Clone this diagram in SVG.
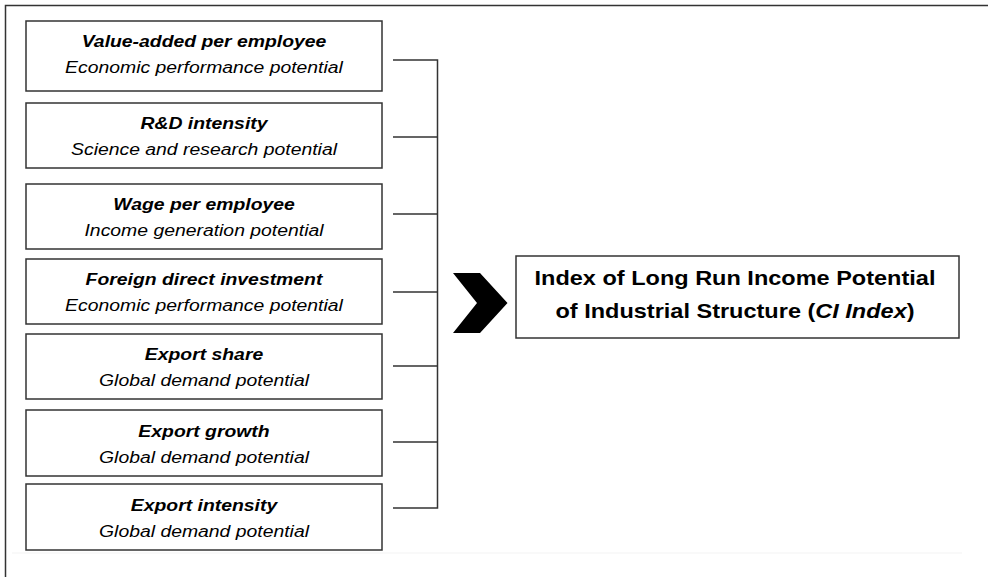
<svg xmlns="http://www.w3.org/2000/svg" width="989" height="577" viewBox="0 0 989 577">
<style>
.box{fill:#fff;stroke:#333;stroke-width:1.5}
.t{font-family:"Liberation Sans",Arial,sans-serif;font-size:17px;font-style:italic;text-anchor:middle;fill:#000}
.b{font-weight:bold}
.c{stroke:#333;stroke-width:1.5;fill:none}
.m{font-family:"Liberation Sans",Arial,sans-serif;font-size:21px;font-weight:bold;text-anchor:middle;fill:#000}
</style>
<rect x="0" y="0" width="989" height="577" fill="#fff"/>
<path d="M5.5,577 V5.5 H988" fill="none" stroke="#333" stroke-width="1.5"/>
<line x1="12" y1="553" x2="962" y2="553" stroke="#f3f3f3" stroke-width="1"/>
<g id="n1"><rect class="box" x="26" y="21" width="356" height="70"/><g transform="translate(204 0) scale(1.14 1)"><text class="t b" x="0" y="47">Value-added per employee</text><text class="t" x="0" y="73">Economic performance potential</text></g></g>
<g id="n2"><rect class="box" x="26" y="103" width="356" height="65"/><g transform="translate(204 0) scale(1.14 1)"><text class="t b" x="0" y="129">R&amp;D intensity</text><text class="t" x="0" y="155">Science and research potential</text></g></g>
<g id="n3"><rect class="box" x="26" y="184" width="356" height="65"/><g transform="translate(204 0) scale(1.14 1)"><text class="t b" x="0" y="210">Wage per employee</text><text class="t" x="0" y="236">Income generation potential</text></g></g>
<g id="n4"><rect class="box" x="26" y="259" width="356" height="65"/><g transform="translate(204 0) scale(1.14 1)"><text class="t b" x="0" y="285">Foreign direct investment</text><text class="t" x="0" y="311">Economic performance potential</text></g></g>
<g id="n5"><rect class="box" x="26" y="334" width="356" height="65"/><g transform="translate(204 0) scale(1.14 1)"><text class="t b" x="0" y="360">Export share</text><text class="t" x="0" y="386">Global demand potential</text></g></g>
<g id="n6"><rect class="box" x="26" y="410" width="356" height="66"/><g transform="translate(204 0) scale(1.14 1)"><text class="t b" x="0" y="437">Export growth</text><text class="t" x="0" y="463">Global demand potential</text></g></g>
<g id="n7"><rect class="box" x="26" y="484" width="356" height="66"/><g transform="translate(204 0) scale(1.14 1)"><text class="t b" x="0" y="511">Export intensity</text><text class="t" x="0" y="537">Global demand potential</text></g></g>
<g id="connectors">
<path class="c" d="M393,60 H437.5 V508 H393"/>
<path class="c" d="M393,137 H437.5 M393,214 H437.5 M393,292 H437.5 M393,366 H437.5 M393,442 H437.5"/>
<polygon points="453,273 480,273 507.5,303 480,333 453,333 477,303" fill="#000"/>
</g>
<g id="result"><rect class="box" x="516" y="256" width="443" height="82"/>
<g transform="translate(735 0) scale(1.12 1)">
<text class="m" x="0" y="285">Index of Long Run Income Potential</text>
<text class="m" x="0" y="318">of Industrial Structure (<tspan font-style="italic">CI Index</tspan>)</text></g></g>
</svg>
